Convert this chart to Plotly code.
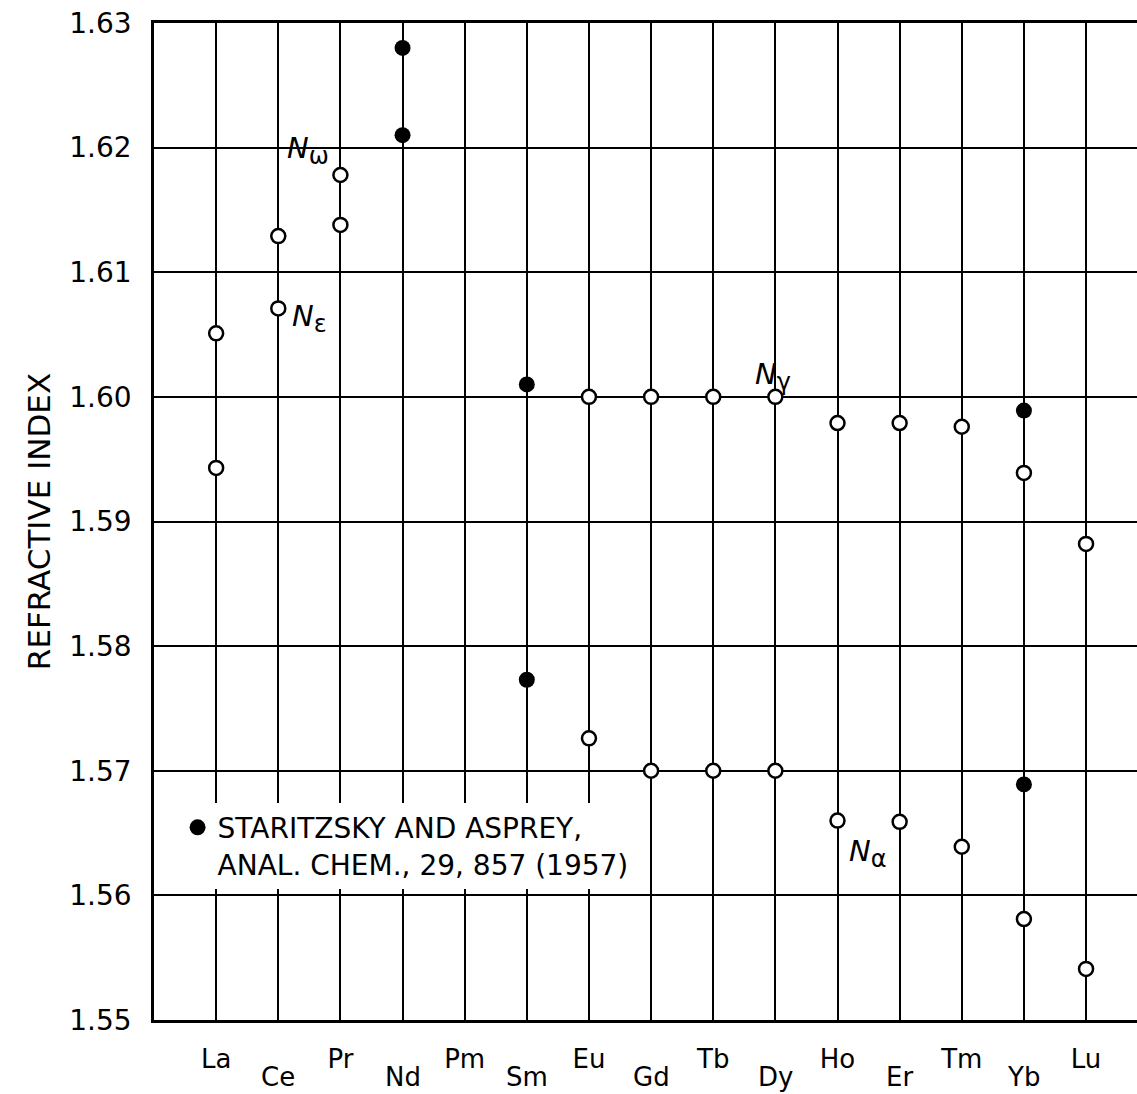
import plotly.graph_objects as go

elements = ["La", "Ce", "Pr", "Nd", "Pm", "Sm", "Eu", "Gd", "Tb", "Dy", "Ho", "Er", "Tm", "Yb", "Lu"]
# open circles (this work)
open_high = [1.6051, 1.6129, 1.6178, None, None, None, 1.6000, 1.6000, 1.6000, 1.6000, 1.5979, 1.5979, 1.5976, 1.5939, 1.5882]
open_low = [1.5943, 1.6071, 1.6138, None, None, None, 1.5726, 1.5700, 1.5700, 1.5700, 1.5660, 1.5659, 1.5639, 1.5581, 1.5541]
# filled circles (Staritzsky and Asprey)
filled_high = [None, None, None, 1.6280, None, 1.6010, None, None, None, None, None, None, None, 1.5989, None]
filled_low = [None, None, None, 1.6210, None, 1.5773, None, None, None, None, None, None, None, 1.5689, None]
y_ticks = [1.55, 1.56, 1.57, 1.58, 1.59, 1.60, 1.61, 1.62, 1.63]
legend_text = "STARITZSKY AND ASPREY,<br>ANAL. CHEM., 29, 857 (1957)"
index_labels = [("ω", 1.48, 1.6198), ("ε", 1.51, 1.6063), ("γ", 8.96, 1.6016), ("α", 10.49, 1.5634)]

FONT = "DejaVu Sans"


def collect(*series):
    xs, ys = [], []
    for s in series:
        for i, v in enumerate(s):
            if v is not None:
                xs.append(i)
                ys.append(v)
    return xs, ys


fig = go.Figure()
ox, oy = collect(open_high, open_low)
fig.add_trace(go.Scatter(x=ox, y=oy, mode="markers", showlegend=False,
                         marker=dict(symbol="circle", size=14, color="white",
                                     line=dict(color="black", width=2.5))))
fx, fy = collect(filled_high, filled_low)
fig.add_trace(go.Scatter(x=fx, y=fy, mode="markers", name=legend_text, showlegend=True,
                         marker=dict(symbol="circle", size=16, color="black",
                                     line=dict(color="black", width=0))))

even_idx = [i for i in range(len(elements)) if i % 2 == 0]
odd_idx = [i for i in range(len(elements)) if i % 2 == 1]

annotations = []
for i in odd_idx:
    annotations.append(dict(x=i, y=0, xref="x", yref="paper", text=elements[i], showarrow=False,
                            yanchor="middle", yshift=-57, font=dict(family=FONT, size=26, color="black")))
for sub, xv, yv in index_labels:
    annotations.append(dict(x=xv, y=yv, xref="x", yref="y",
                            text=f"<i>N</i><sub><span style='font-size:24px'>{sub}</span></sub>",
                            showarrow=False, font=dict(family=FONT, size=29, color="black")))

fig.update_layout(
    width=1137, height=1094,
    margin=dict(l=154, r=0, t=23, b=74),
    plot_bgcolor="white", paper_bgcolor="white",
    font=dict(family=FONT, color="black"),
    annotations=annotations,
    legend=dict(x=0.024, y=0.218, xanchor="left", yanchor="top", bgcolor="white",
                valign="top", font=dict(family=FONT, size=28, color="black"),
                borderwidth=0, tracegroupgap=0),
    xaxis=dict(range=[-1, 14.82], tickmode="array", tickvals=even_idx,
               ticktext=[elements[i] for i in even_idx],
               showgrid=True, gridcolor="black", gridwidth=1.5, zeroline=False,
               showline=True, linecolor="black", linewidth=2.5, mirror=True,
               ticks="", ticklabelstandoff=14,
               tickfont=dict(family=FONT, size=26, color="black"),
               minor=dict(tickmode="array", tickvals=odd_idx, showgrid=True,
                          gridcolor="black", gridwidth=1.5, ticks="")),
    yaxis=dict(range=[1.55, 1.63], tickmode="array", tickvals=y_ticks,
               ticktext=[f"{v:.2f}" for v in y_ticks],
               showgrid=True, gridcolor="black", gridwidth=1.5, zeroline=False,
               showline=True, linecolor="black", linewidth=2.5,
               ticks="", ticklabelstandoff=14,
               tickfont=dict(family=FONT, size=28, color="black"),
               title=dict(text="REFRACTIVE INDEX", standoff=10,
                          font=dict(family=FONT, size=31, color="black"))),
)

fig.write_html("out.html")
